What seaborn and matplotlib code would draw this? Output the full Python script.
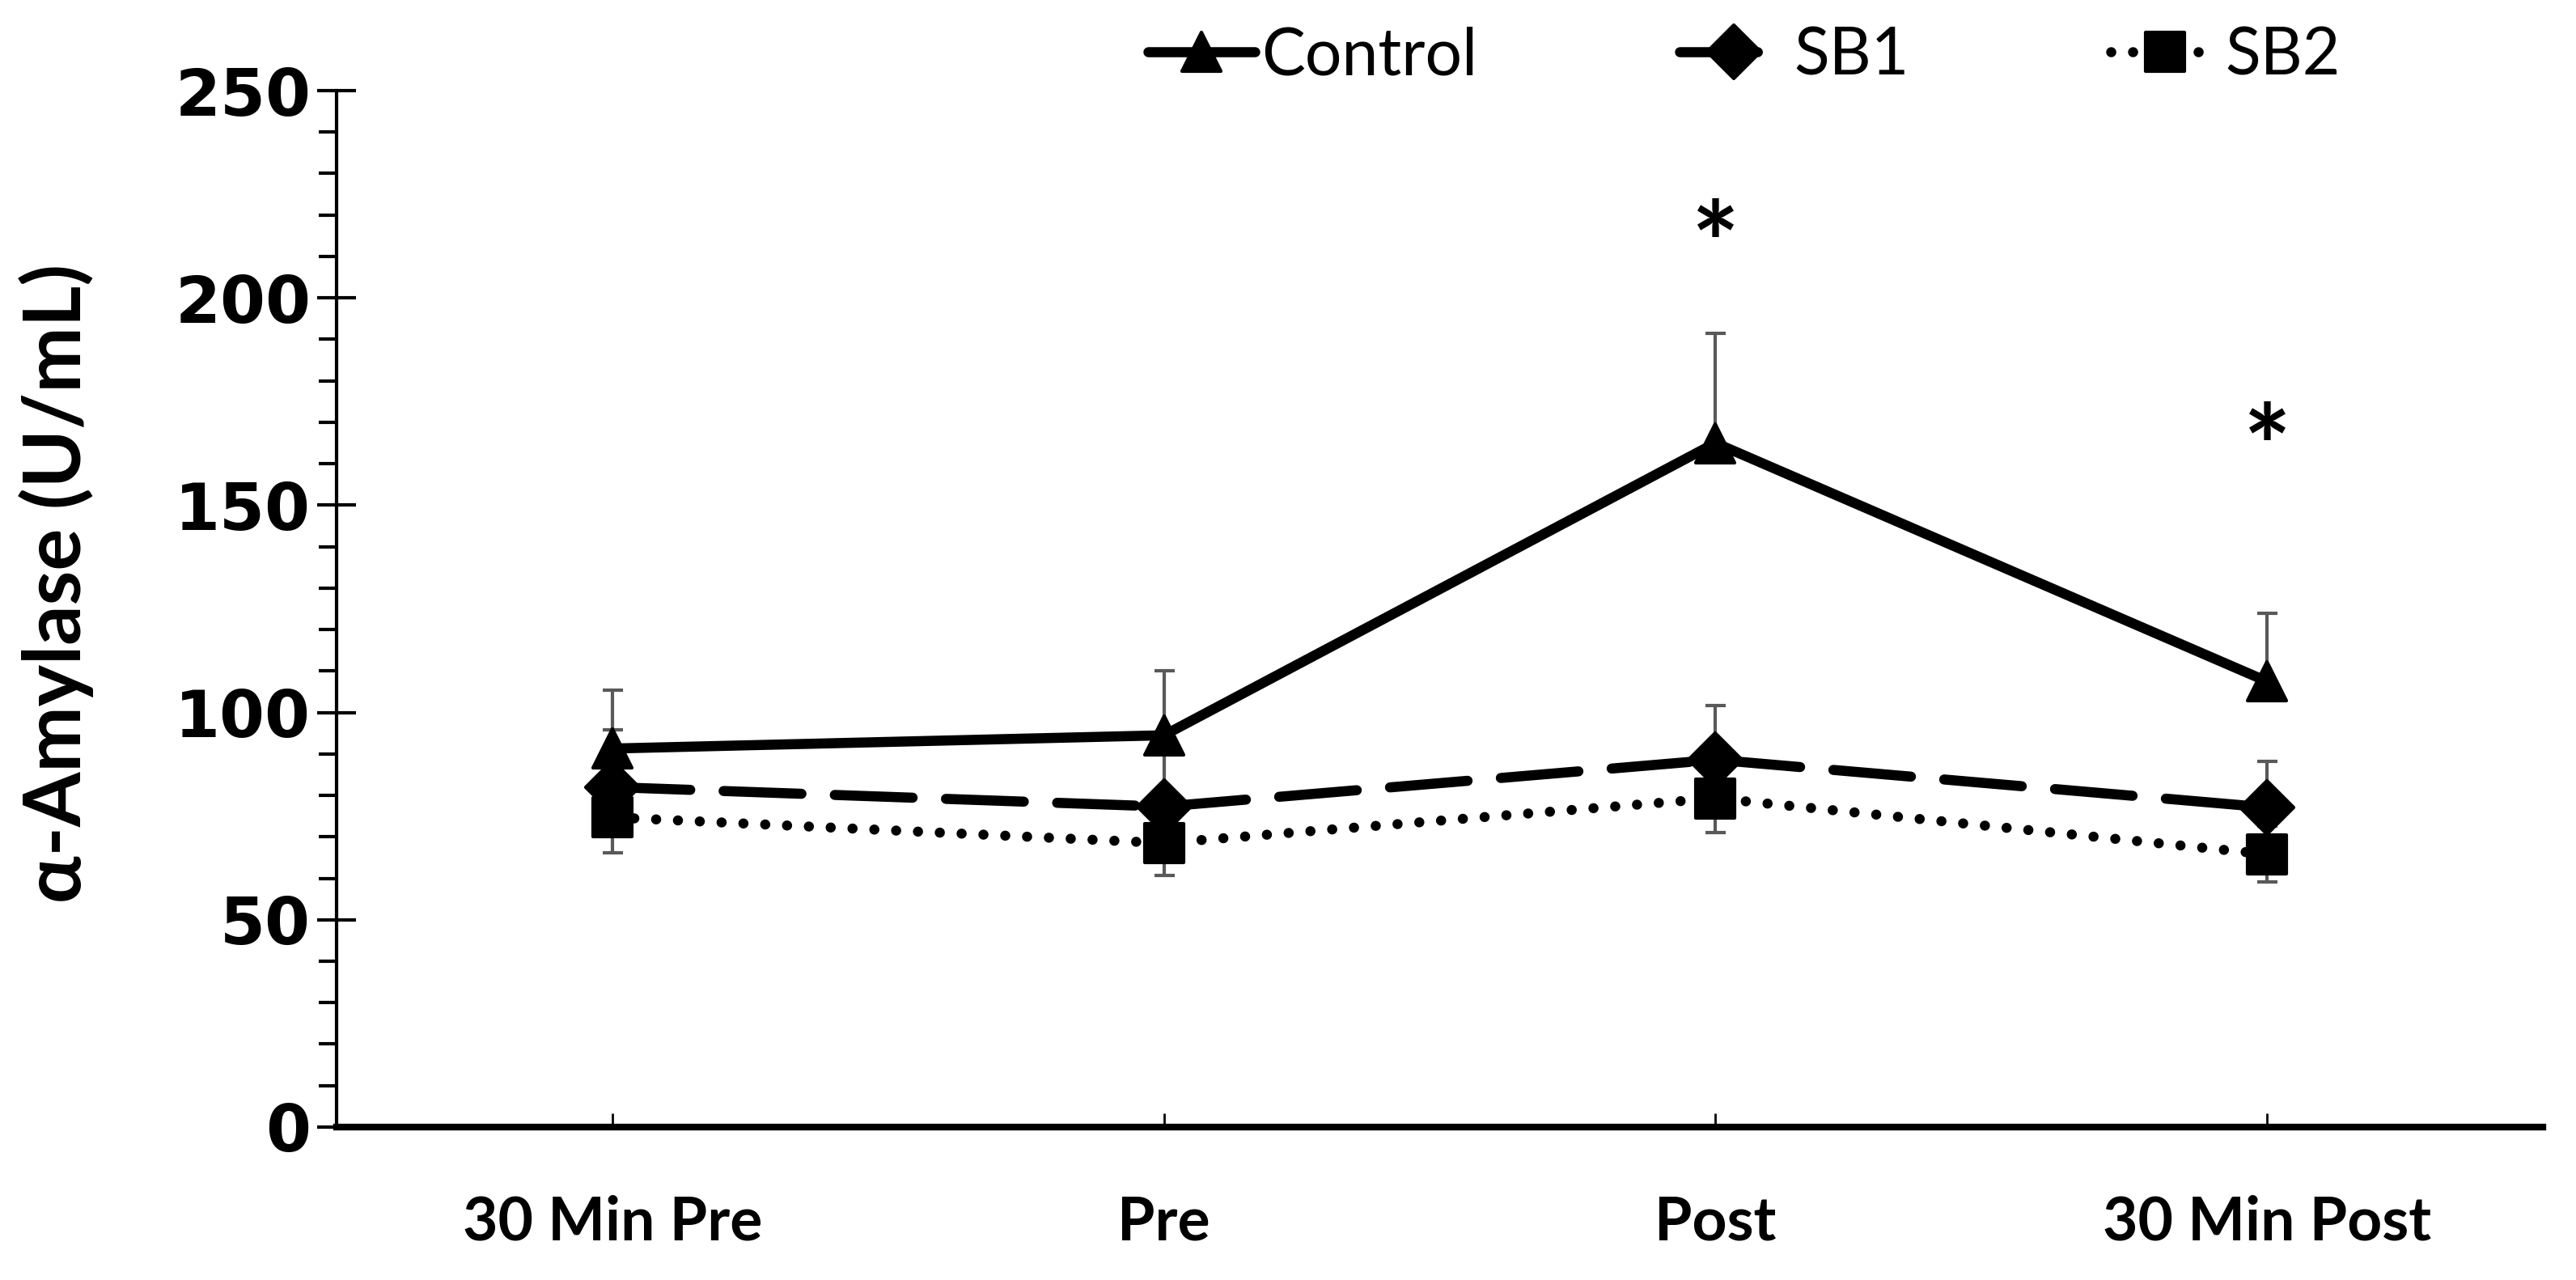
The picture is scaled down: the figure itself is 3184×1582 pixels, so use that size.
import numpy as np
import pandas as pd
import matplotlib
import matplotlib.pyplot as plt
import seaborn as sns
from matplotlib.markers import MarkerStyle
from matplotlib.ticker import MultipleLocator

matplotlib.use('Agg')

# data
times = ['30 Min Pre', 'Pre', 'Post', '30 Min Post']
control = [91.3, 94.5, 165.0, 107.5]
control_err = [14.0, 15.5, 26.4, 16.5]
sb1 = [82.0, 77.3, 88.6, 77.1]
sb1_err = [13.8, 15.0, 13.0, 11.2]
sb2 = [74.7, 68.5, 79.3, 65.8]
sb2_err = [8.5, 7.8, 8.3, 6.7]
star_pos = [2, 3]
star_y = [211, 162]

sns.set_style('ticks')
plt.rcParams['font.family'] = ['Lato', 'DejaVu Sans']
plt.rcParams['lines.dash_capstyle'] = 'round'
plt.rcParams['lines.solid_capstyle'] = 'round'
# 全部用纯黑
for k in ['text.color', 'axes.labelcolor', 'xtick.color', 'ytick.color', 'axes.edgecolor']:
    plt.rcParams[k] = 'black'

df = pd.DataFrame({
    'pos': list(range(len(times))) * 3,
    'value': control + sb1 + sb2,
    'group': ['Control'] * 4 + ['SB1'] * 4 + ['SB2'] * 4,
})

fig = plt.figure(figsize=(15.92, 7.91), dpi=200)
ax = fig.add_axes([0.1307, 0.1195, 0.8564, 0.8097])

# 误差线（先画，放在标记下面）
x = np.arange(len(times))
err_kw = dict(fmt='none', ecolor='#595959', elinewidth=1.5, capsize=4.5, capthick=1.5, zorder=1)
ax.errorbar(x, control, yerr=[np.zeros(4), control_err], **err_kw)
ax.errorbar(x, sb1, yerr=[np.zeros(4), sb1_err], **err_kw)
ax.errorbar(x, sb2, yerr=sb2_err, **err_kw)

mk = {g: MarkerStyle(m, joinstyle='round') for g, m in zip(['Control', 'SB1', 'SB2'], ['^', 'D', 's'])}
sns.lineplot(data=df, x='pos', y='value', hue='group', style='group',
             palette=['black'] * 3, markers=mk,
             dashes={'Control': '', 'SB1': (7.7, 3.3), 'SB2': (0.01, 2.15)},
             linewidth=4.5, markersize=17, markeredgecolor='black', markeredgewidth=1.5,
             ax=ax, zorder=3)

for xp, yp in zip(star_pos, star_y):
    ax.text(xp, yp, '*', ha='center', va='center', fontsize=50, fontweight='bold')

ax.set_xlim(-0.5, 3.5)
ax.set_ylim(0, 250)
ax.set_xticks(x)
ax.set_xticklabels(times, fontsize=27, fontweight='bold')
ax.yaxis.set_major_locator(MultipleLocator(50))
ax.yaxis.set_minor_locator(MultipleLocator(10))
ax.tick_params(axis='y', which='major', direction='inout', length=17, width=1.5, pad=3)
ax.tick_params(axis='y', which='minor', direction='out', length=8, width=1.5)
ax.tick_params(axis='x', which='major', direction='in', length=6, width=1, pad=30)
for lab in ax.get_yticklabels():
    lab.set_fontweight('bold')
    lab.set_fontsize(29)
    lab.set_family('DejaVu Sans')

ax.set_xlabel('')
ax.set_ylabel('α-Amylase (U/mL)', fontsize=35, fontweight='bold')
ax.yaxis.set_label_coords(-0.11, 0.525)
sns.despine(ax=ax)
ax.spines['left'].set_linewidth(1.5)
ax.spines['bottom'].set_linewidth(3)

handles, labels = ax.get_legend_handles_labels()
ax.legend(handles, labels, loc='center', bbox_to_anchor=(0.677, 0.956),
          bbox_transform=fig.transFigure, ncol=3, frameon=False, fontsize=29,
          handlelength=1.65, handletextpad=0.1, columnspacing=3.1)

plt.savefig('out.png', dpi=200)
